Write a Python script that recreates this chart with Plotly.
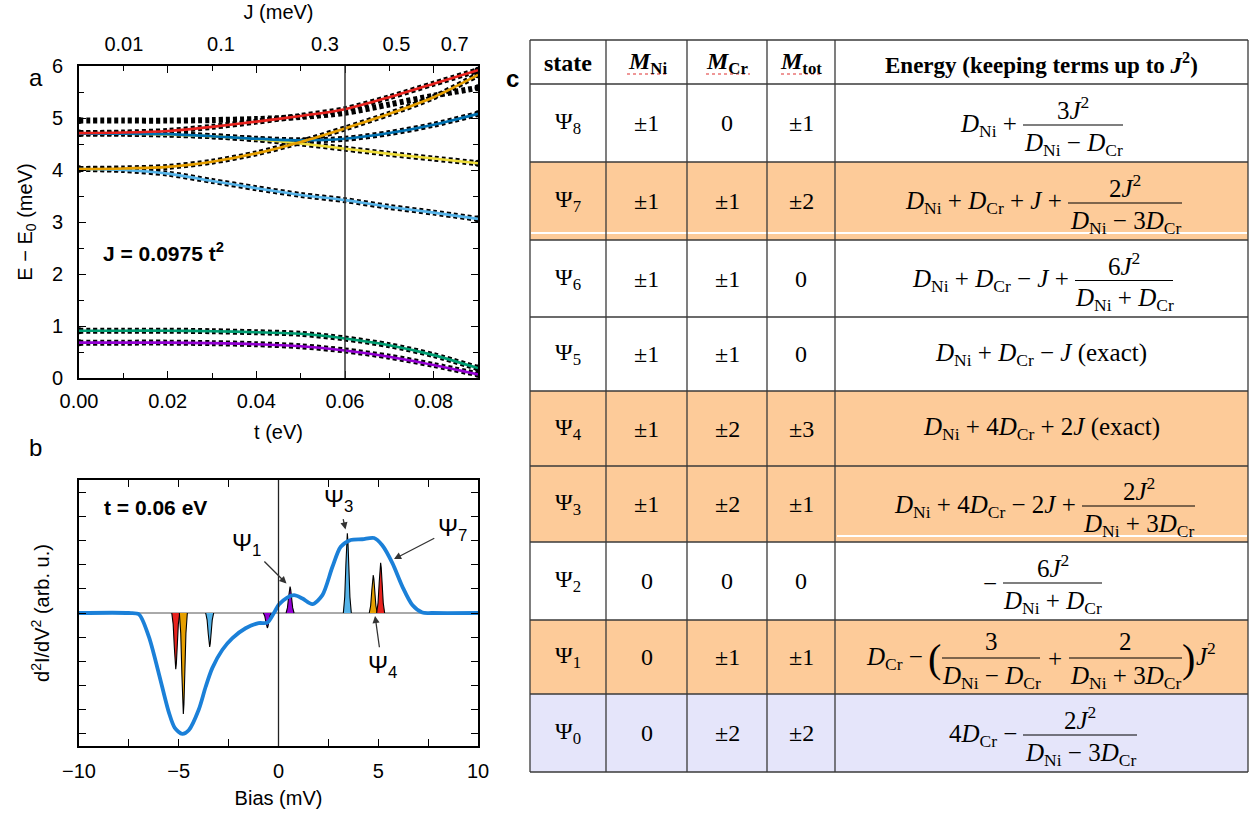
import numpy as np
import plotly.graph_objects as go

W, H = 1253, 817
SANS = "Liberation Sans, Arial, sans-serif"
SERIF = "Liberation Serif, Times New Roman, serif"

def px(x):
    return x / W

def py(y):
    return 1 - y / H

# ---------------- Panel a data ----------------
t_vals = [0.00, 0.01, 0.02, 0.03, 0.04, 0.05, 0.06, 0.07, 0.08, 0.09]
E_black_only = [4.95, 4.95, 4.95, 4.96, 4.98, 5.02, 5.10, 5.26, 5.43, 5.58]
E_red = [4.71, 4.72, 4.75, 4.83, 4.93, 5.04, 5.17, 5.40, 5.66, 5.92]
E_orange = [4.02, 4.03, 4.06, 4.16, 4.32, 4.54, 4.80, 5.08, 5.40, 5.83]
E_blue = [4.70, 4.70, 4.69, 4.65, 4.60, 4.57, 4.60, 4.71, 4.87, 5.08]
E_yellow = [4.70, 4.70, 4.68, 4.65, 4.59, 4.51, 4.41, 4.31, 4.22, 4.13]
E_lightblue = [4.02, 4.00, 3.93, 3.79, 3.65, 3.52, 3.42, 3.29, 3.18, 3.06]
E_green = [0.91, 0.91, 0.91, 0.90, 0.88, 0.85, 0.76, 0.63, 0.44, 0.19]
E_purple = [0.68, 0.68, 0.68, 0.67, 0.65, 0.61, 0.53, 0.41, 0.25, 0.07]

J_ticks = [0.01, 0.1, 0.3, 0.5, 0.7]
J_ticktext = ["0.01", "0.1", "0.3", "0.5", "0.7"]
J_coef = 0.0975  # J = 0.0975 t^2 (J in eV, t in eV)

# ---------------- Panel b data ----------------
bias_x = [-10, -7.5, -7, -6.5, -6, -5.5, -5.2, -4.82, -4.5, -4.0, -3.65, -3.32, -2.82,
          -2.31, -1.65, -1.0, -0.56, -0.23, 0.03, 0.4, 0.78, 1.2, 1.7, 2.2, 2.7, 3.12,
          3.62, 4.2, 4.79, 5.2, 5.71, 6.21, 6.71, 7.21, 7.7, 10]
didv_y = [0, 0, -0.05, -0.98, -2.5, -4.1, -4.75, -5.0, -4.85, -4.0, -3.05, -2.28, -1.53,
          -1.04, -0.63, -0.42, -0.40, 0.0, 0.36, 0.62, 0.74, 0.60, 0.37, 0.74, 1.9, 2.74,
          3.02, 3.05, 3.10, 2.80, 2.06, 1.09, 0.33, 0.02, 0, 0]

spike_red_neg_x = [-5.35, -5.28, -5.22, -5.18, -5.15, -5.12, -5.08, -5.02, -4.95]
spike_red_neg_y = [0, -0.46, -1.44, -2.09, -2.32, -2.09, -1.44, -0.46, 0]
spike_orange_neg_x = [-4.97, -4.90, -4.84, -4.80, -4.77, -4.74, -4.70, -4.64, -4.57]
spike_orange_neg_y = [0, -0.84, -2.59, -3.76, -4.18, -3.76, -2.59, -0.84, 0]
spike_lblue_neg_x = [-3.65, -3.58, -3.52, -3.48, -3.45, -3.42, -3.38, -3.32, -3.25]
spike_lblue_neg_y = [0, -0.28, -0.87, -1.26, -1.40, -1.26, -0.87, -0.28, 0]
spike_purple_neg_x = [-0.76, -0.69, -0.63, -0.59, -0.56, -0.53, -0.49, -0.43, -0.36]
spike_purple_neg_y = [0, -0.12, -0.38, -0.56, -0.62, -0.56, -0.38, -0.12, 0]
spike_purple_pos_x = [0.38, 0.45, 0.51, 0.55, 0.58, 0.61, 0.65, 0.71, 0.78]
spike_purple_pos_y = [0, 0.22, 0.68, 0.98, 1.09, 0.98, 0.68, 0.22, 0]
spike_lblue_pos_x = [3.25, 3.32, 3.38, 3.42, 3.45, 3.48, 3.52, 3.58, 3.65]
spike_lblue_pos_y = [0, 0.66, 2.05, 2.97, 3.30, 2.97, 2.05, 0.66, 0]
spike_orange_pos_x = [4.55, 4.62, 4.68, 4.72, 4.75, 4.78, 4.82, 4.88, 4.95]
spike_orange_pos_y = [0, 0.31, 0.97, 1.41, 1.57, 1.41, 0.97, 0.31, 0]
spike_red_pos_x = [4.92, 4.99, 5.05, 5.09, 5.12, 5.15, 5.19, 5.25, 5.32]
spike_red_pos_y = [0, 0.42, 1.29, 1.87, 2.08, 1.87, 1.29, 0.42, 0]

# ---------------- Panel c data ----------------
states = ["Ψ<sub>8</sub>", "Ψ<sub>7</sub>", "Ψ<sub>6</sub>", "Ψ<sub>5</sub>", "Ψ<sub>4</sub>",
          "Ψ<sub>3</sub>", "Ψ<sub>2</sub>", "Ψ<sub>1</sub>", "Ψ<sub>0</sub>"]
M_Ni = ["±1", "±1", "±1", "±1", "±1", "±1", "0", "0", "0"]
M_Cr = ["0", "±1", "±1", "±1", "±2", "±2", "0", "±1", "±2"]
M_tot = ["±1", "±2", "0", "0", "±3", "±1", "0", "±1", "±2"]
row_style = ["w", "o", "w", "w", "o", "o", "w", "o", "l"]

C_RED = "#E8231E"
C_ORANGE = "#E69F00"
C_BLUE = "#0072B2"
C_YELLOW = "#EEDD3A"
C_LBLUE = "#56B4E9"
C_GREEN = "#009E73"
C_PURPLE = "#9400D3"
C_BIAS = "#1B80D8"
FILL_O = "#FDCB99"
FILL_L = "#E5E5FA"

fig = go.Figure()

# ---- panel a traces ----
curves = [
    (E_black_only, None),
    (E_lightblue, C_LBLUE),
    (E_yellow, C_YELLOW),
    (E_blue, C_BLUE),
    (E_orange, C_ORANGE),
    (E_red, C_RED),
    (E_green, C_GREEN),
    (E_purple, C_PURPLE),
]
for E, c in curves:
    fig.add_trace(go.Scatter(
        x=t_vals, y=E, mode="lines", xaxis="x", yaxis="y",
        line=dict(color="black", width=6, dash="4px,3px", shape="spline", smoothing=0.8),
        showlegend=False, hoverinfo="skip"))
    fig.add_trace(go.Scatter(
        x=[t_vals[0], t_vals[-1]], y=[E[0], E[-1]], mode="markers", xaxis="x", yaxis="y",
        marker=dict(color="black", size=7), showlegend=False, hoverinfo="skip"))
for E, c in curves:
    if c is None:
        continue
    fig.add_trace(go.Scatter(
        x=t_vals, y=E, mode="lines", xaxis="x", yaxis="y",
        line=dict(color=c, width=2.6, shape="spline", smoothing=0.8),
        showlegend=False, hoverinfo="skip"))

# invisible trace for top axis
fig.add_trace(go.Scatter(x=[0, 0.09], y=[0, 0], xaxis="x2", yaxis="y", mode="markers",
                         marker=dict(opacity=0), showlegend=False, hoverinfo="skip"))

# ---- panel b traces ----
fig.add_trace(go.Scatter(x=[-10, 10], y=[0, 0], mode="lines", xaxis="x3", yaxis="y3",
                         line=dict(color="#555", width=1), showlegend=False, hoverinfo="skip"))
spikes = [
    (spike_red_neg_x, spike_red_neg_y, C_RED),
    (spike_orange_neg_x, spike_orange_neg_y, C_ORANGE),
    (spike_lblue_neg_x, spike_lblue_neg_y, C_LBLUE),
    (spike_purple_neg_x, spike_purple_neg_y, C_PURPLE),
    (spike_purple_pos_x, spike_purple_pos_y, C_PURPLE),
    (spike_lblue_pos_x, spike_lblue_pos_y, C_LBLUE),
    (spike_orange_pos_x, spike_orange_pos_y, C_ORANGE),
    (spike_red_pos_x, spike_red_pos_y, C_RED),
]
for sx, sy, c in spikes:
    fig.add_trace(go.Scatter(x=sx, y=sy, mode="lines", xaxis="x3", yaxis="y3",
                             fill="toself", fillcolor=c,
                             line=dict(color="black", width=1.1),
                             showlegend=False, hoverinfo="skip"))
fig.add_trace(go.Scatter(x=bias_x, y=didv_y, mode="lines", xaxis="x3", yaxis="y3",
                         line=dict(color=C_BIAS, width=3.8, shape="spline", smoothing=0.8),
                         showlegend=False, hoverinfo="skip"))

axfont = dict(family=SANS, size=20, color="black")
common = dict(showgrid=False, zeroline=False, showline=True, linecolor="black", linewidth=2,
              ticks="inside", tickcolor="black", tickwidth=1.3, mirror="ticks",
              tickfont=axfont, automargin=False)

J_tickvals = [float(np.sqrt(j / 1000.0 / J_coef)) for j in J_ticks]

fig.update_layout(
    width=W, height=H, margin=dict(l=0, r=0, t=0, b=0),
    paper_bgcolor="white", plot_bgcolor="rgba(0,0,0,0)",
    xaxis=dict(domain=[px(79), px(478)], range=[0, 0.09], anchor="y",
               tickvals=[0, 0.02, 0.04, 0.06, 0.08], ticktext=["0.00", "0.02", "0.04", "0.06", "0.08"],
               ticklen=7, minor=dict(dtick=0.01, ticklen=5, ticks="inside", tickcolor="black"),
               ticklabelstandoff=4,
               title=dict(text="t (eV)", font=axfont, standoff=14), **common),
    xaxis2=dict(overlaying="x", anchor="y", side="top", range=[0, 0.09],
                tickvals=J_tickvals, ticktext=J_ticktext, ticks="", showline=False,
                showgrid=False, zeroline=False, tickfont=axfont, automargin=False,
                ticklabelstandoff=10,
                title=dict(text="J (meV)", font=axfont, standoff=8)),
    yaxis=dict(domain=[py(378), py(66)], range=[0, 6], anchor="x", dtick=1, ticklen=7,
               minor=dict(dtick=0.5, ticklen=5, ticks="inside", tickcolor="black"),
               ticklabelstandoff=10,
               title=dict(text="E − E<sub>0</sub> (meV)", font=axfont, standoff=14), **common),
    xaxis3=dict(domain=[px(79), px(478)], range=[-10, 10], anchor="y3",
                tickvals=[-10, -5, 0, 5, 10], ticktext=["−10", "−5", "0", "5", "10"], ticklen=7,
                minor=dict(dtick=2.5, ticklen=7, ticks="inside", tickcolor="black"),
                ticklabelstandoff=6,
                title=dict(text="Bias (mV)", font=axfont, standoff=10), **common),
    yaxis3=dict(domain=[py(746), py(480)], range=[-5.5, 5.5], anchor="x3", dtick=1, ticklen=7,
                showticklabels=False,
                title=dict(text="d<sup>2</sup>I/dV<sup>2</sup> (arb. u.)", font=axfont, standoff=22),
                **common),
)

shapes = []
annotations = []

# vertical marker lines
shapes.append(dict(type="line", xref="x", yref="y domain", x0=0.06, x1=0.06, y0=0, y1=1,
                   line=dict(color="#333", width=1.5)))
shapes.append(dict(type="line", xref="x3", yref="y3 domain", x0=0, x1=0, y0=0, y1=1,
                   line=dict(color="#222", width=1.3)))

# panel texts
annotations.append(dict(x=0.005, y=2.42, xref="x", yref="y", xanchor="left", showarrow=False,
                        text="<b>J = 0.0975 t<sup>2</sup></b>", font=dict(family=SANS, size=21, color="black")))
annotations.append(dict(x=-8.85, y=4.38, xref="x3", yref="y3", xanchor="left", showarrow=False,
                        text="<b>t = 0.06 eV</b>", font=dict(family=SANS, size=21, color="black")))

psi_font = dict(family=SANS, size=24, color="black")
for label, tx, ty, hx, hy in [
    ("Ψ<sub>1</sub>", -1.58, 2.85, 0.40, 1.22),
    ("Ψ<sub>3</sub>", 3.03, 4.67, 3.36, 3.45),
    ("Ψ<sub>7</sub>", 8.70, 3.47, 5.79, 2.23),
    ("Ψ<sub>4</sub>", 5.19, -2.20, 4.84, -0.12),
]:
    annotations.append(dict(x=hx, y=hy, xref="x3", yref="y3", ax=tx, ay=ty, axref="x3", ayref="y3",
                            text=label, showarrow=True, arrowhead=2, arrowsize=1.1, arrowwidth=1.3,
                            arrowcolor="#333", font=psi_font, standoff=0, startstandoff=2))

for lab, x, y, bold in [("a", 27, 62, False), ("b", 27, 448, False), ("c", 512, 63, True)]:
    annotations.append(dict(x=px(x), y=py(y), xref="paper", yref="paper", showarrow=False,
                            text=f"<b>{lab}</b>" if bold else lab,
                            font=dict(family=SANS, size=24, color="black")))

# ---------------- table (panel c) ----------------
col_x = [530, 606, 687, 767, 835, 1248]
row_y = [40, 84, 162, 240, 317, 391, 466, 542, 620, 694, 772]

for i, st in enumerate(row_style):
    if st == "w":
        continue
    fill = FILL_O if st == "o" else FILL_L
    shapes.append(dict(type="rect", xref="paper", yref="paper", x0=px(col_x[0]), x1=px(col_x[-1]),
                       y0=py(row_y[i + 2]), y1=py(row_y[i + 1]), fillcolor=fill, line=dict(width=0),
                       layer="below"))
# white highlight streaks
shapes.append(dict(type="line", xref="paper", yref="paper", x0=px(531), x1=px(1247), y0=py(233), y1=py(233),
                   line=dict(color="white", width=2)))
shapes.append(dict(type="line", xref="paper", yref="paper", x0=px(837), x1=px(1247), y0=py(536), y1=py(536),
                   line=dict(color="white", width=2)))

grid_line = dict(color="#3a3a3a", width=1.3)
for x in col_x:
    shapes.append(dict(type="line", xref="paper", yref="paper", x0=px(x), x1=px(x),
                       y0=py(row_y[0]), y1=py(row_y[-1]), line=grid_line))
for y in row_y:
    shapes.append(dict(type="line", xref="paper", yref="paper", x0=px(col_x[0]), x1=px(col_x[-1]),
                       y0=py(y), y1=py(y), line=grid_line))

def tann(x, y, text, size=24, xanchor="center", family=SERIF):
    annotations.append(dict(x=px(x), y=py(y), xref="paper", yref="paper", text=text, showarrow=False,
                            xanchor=xanchor, yanchor="middle",
                            font=dict(family=family, size=size, color="black")))

# header
hy = 63
tann(568, hy, "<b>state</b>")
tann(647, hy, "<b><i>M</i><sub>Ni</sub></b>")
tann(727, hy, "<b><i>M</i><sub>Cr</sub></b>")
tann(801, hy, "<b><i>M</i><sub>tot</sub></b>")
tann(1041, hy, "<b>Energy (keeping terms up to <i>J</i><sup>2</sup>)</b>", size=23)
for x0, x1 in [(627, 668), (706, 750), (781, 822)]:
    shapes.append(dict(type="line", xref="paper", yref="paper", x0=px(x0), x1=px(x1), y0=py(74), y1=py(74),
                       line=dict(color="#e03030", width=1.2, dash="dot")))

centers_x = [(col_x[k] + col_x[k + 1]) / 2 for k in range(4)]
for i in range(9):
    yc = (row_y[i + 1] + row_y[i + 2]) / 2
    tann(centers_x[0], yc, states[i])
    tann(centers_x[1], yc, M_Ni[i])
    tann(centers_x[2], yc, M_Cr[i])
    tann(centers_x[3], yc, M_tot[i])

DNi = "<i>D</i><sub>Ni</sub>"
DCr = "<i>D</i><sub>Cr</sub>"
J = "<i>J</i>"
J2 = "<i>J</i><sup>2</sup>"
MS = 25

def frac(x0, x1, yc, num, den):
    shapes.append(dict(type="line", xref="paper", yref="paper", x0=px(x0), x1=px(x1), y0=py(yc), y1=py(yc),
                       line=dict(color="black", width=1.2)))
    tann((x0 + x1) / 2, yc - 17, num, size=MS)
    tann((x0 + x1) / 2, yc + 19, den, size=MS)

def rc(i):
    return (row_y[i + 1] + row_y[i + 2]) / 2

# Psi8
y = rc(0) + 2
tann(1019, y, f"{DNi} +", size=MS, xanchor="right")
frac(1023, 1123, y, "3" + J2, f"{DNi} − {DCr}")
# Psi7
y = rc(1) + 2
tann(1064, y, f"{DNi} + {DCr} + {J} +", size=MS, xanchor="right")
frac(1068, 1182, y, "2" + J2, f"{DNi} − 3{DCr}")
# Psi6
y = rc(2) + 2
tann(1071, y, f"{DNi} + {DCr} − {J} +", size=MS, xanchor="right")
frac(1075, 1173, y, "6" + J2, f"{DNi} + {DCr}")
# Psi5
tann(1041, rc(3), f"{DNi} + {DCr} − {J} (exact)", size=MS)
# Psi4
tann(1041, rc(4), f"{DNi} + 4{DCr} + 2{J} (exact)", size=MS)
# Psi3
y = rc(5) + 2
tann(1078, y, f"{DNi} + 4{DCr} − 2{J} +", size=MS, xanchor="right")
frac(1082, 1195, y, "2" + J2, f"{DNi} + 3{DCr}")
# Psi2
y = rc(6) + 2
tann(999, y, "−", size=MS, xanchor="right")
frac(1003, 1102, y, "6" + J2, f"{DNi} + {DCr}")
# Psi1
y = rc(7) + 1
tann(925, y, f"{DCr} −", size=MS, xanchor="right")
tann(934, y, "(", size=40)
frac(942, 1040, y, "3", f"{DNi} − {DCr}")
tann(1055, y, "+", size=MS)
frac(1069, 1182, y, "2", f"{DNi} + 3{DCr}")
tann(1188, y, ")", size=40)
tann(1194, y - 4, J2, size=MS, xanchor="left")
# Psi0
y = rc(8) + 2
tann(1019, y, f"4{DCr} −", size=MS, xanchor="right")
frac(1023, 1137, y, "2" + J2, f"{DNi} − 3{DCr}")

fig.update_layout(shapes=shapes, annotations=annotations)
fig.write_html("out.html")
